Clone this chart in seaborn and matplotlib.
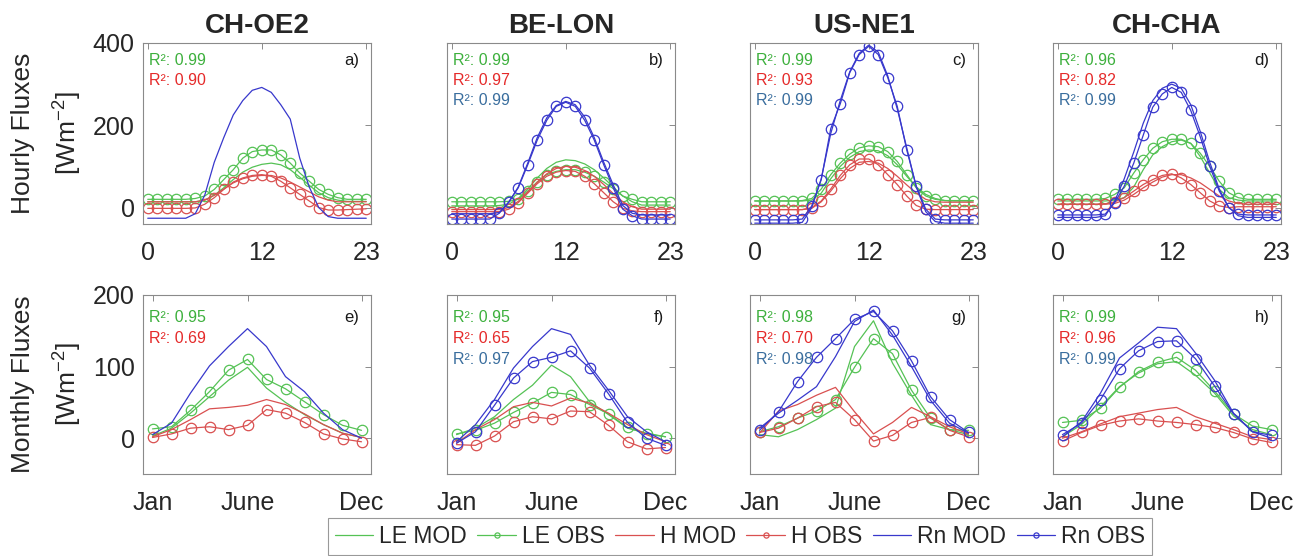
import matplotlib
matplotlib.use("Agg")
import matplotlib.pyplot as plt
import seaborn as sns
import numpy as np
import pandas as pd

# --- data ----------------------------------------------------------------
sites = ["CH-OE2", "BE-LON", "US-NE1", "CH-CHA"]
hours = list(range(24))
months = list(range(1, 13))
month_ticks = [1, 6, 12]
month_labels = ["Jan", "June", "Dec"]

# hourly fluxes (W m-2)
oe2_h_le_mod = [14, 14, 14, 14, 14, 14, 18, 30, 48, 68, 86, 98, 105, 108, 104, 92, 74, 54, 36, 24, 18, 15, 15, 15]
oe2_h_le_obs = [20, 20, 20, 20, 20, 22, 28, 44, 68, 92, 120, 136, 140, 140, 128, 108, 84, 64, 44, 32, 24, 20, 20, 20]
oe2_h_h_mod = [14, 14, 14, 14, 14, 14, 18, 30, 45, 60, 70, 76, 78, 78, 72, 62, 50, 38, 26, 18, 14, 14, 14, 14]
oe2_h_h_obs = [-2, -2, -2, -2, -2, -1, 8, 24, 44, 62, 72, 78, 80, 76, 64, 48, 32, 16, 0, -6, -6, -5, -4, -3]
oe2_h_rn_mod = [-26, -26, -26, -26, -26, -15, 30, 110, 170, 225, 260, 285, 292, 280, 250, 215, 120, 50, 0, -22, -26, -26, -26, -26]

lon_h_le_mod = [4, 4, 4, 4, 4, 5, 8, 22, 45, 72, 95, 110, 116, 114, 106, 92, 72, 50, 28, 14, 6, 6, 6, 6]
lon_h_le_obs = [14, 14, 14, 14, 14, 14, 15, 20, 40, 62, 80, 88, 92, 92, 86, 76, 62, 46, 28, 20, 14, 14, 14, 14]
lon_h_h_mod = [-5, -5, -5, -5, -5, -5, 0, 15, 38, 62, 82, 95, 100, 98, 90, 76, 56, 34, 14, 2, -4, -4, -4, -4]
lon_h_h_obs = [-10, -10, -10, -10, -10, -10, -4, 12, 35, 58, 76, 86, 90, 88, 76, 58, 36, 14, -2, -8, -10, -10, -10, -10]
lon_h_rn_mod = [-15, -15, -15, -15, -15, -12, 12, 50, 108, 170, 218, 248, 258, 250, 220, 170, 110, 55, 5, -14, -18, -18, -18, -18]
lon_h_rn_obs = [-28, -28, -28, -28, -28, -14, 14, 48, 104, 164, 212, 246, 256, 246, 212, 164, 104, 48, -4, -20, -28, -28, -28, -28]

ne1_h_le_mod = [16, 16, 16, 16, 16, 16, 18, 35, 70, 100, 122, 136, 140, 138, 126, 104, 76, 50, 32, 22, 17, 17, 17, 17]
ne1_h_le_obs = [16, 16, 16, 16, 16, 17, 22, 45, 80, 108, 130, 145, 150, 148, 136, 112, 80, 48, 28, 20, 17, 16, 16, 16]
ne1_h_h_mod = [-5, -5, -5, -5, -5, -5, -2, 14, 40, 70, 95, 110, 112, 108, 95, 76, 55, 35, 20, 14, 13, 13, 13, 13]
ne1_h_h_obs = [-5, -5, -5, -5, -5, -5, 0, 16, 45, 78, 104, 118, 118, 104, 80, 56, 28, 5, -4, -5, -5, -5, -5, -5]
ne1_h_rn_mod = [-38, -38, -38, -38, -38, -36, 0, 70, 180, 260, 330, 375, 395, 378, 320, 240, 145, 50, -10, -34, -38, -38, -38, -38]
ne1_h_rn_obs = [-30, -30, -30, -30, -30, -28, 4, 68, 192, 252, 328, 372, 392, 372, 316, 246, 140, 52, -4, -28, -30, -30, -30, -30]

cha_h_le_mod = [16, 16, 16, 16, 16, 16, 18, 24, 50, 92, 128, 148, 160, 164, 156, 124, 84, 44, 24, 18, 16, 16, 16, 16]
cha_h_le_obs = [20, 20, 20, 20, 20, 22, 32, 48, 84, 116, 144, 160, 166, 166, 156, 132, 100, 64, 36, 24, 20, 20, 20, 20]
cha_h_h_mod = [8, 8, 8, 8, 8, 8, 10, 18, 32, 48, 62, 74, 80, 80, 72, 60, 44, 28, 16, 10, 8, 8, 8, 8]
cha_h_h_obs = [8, 8, 8, 8, 8, 9, 14, 24, 40, 56, 68, 78, 82, 72, 56, 36, 16, 4, 0, 2, 2, 2, 2, 2]
cha_h_rn_mod = [-24, -24, -24, -24, -24, -20, 16, 70, 135, 205, 260, 290, 300, 290, 250, 185, 110, 45, 0, -20, -24, -24, -24, -24]
cha_h_rn_obs = [-18, -18, -18, -18, -18, -16, 12, 52, 108, 176, 244, 276, 292, 280, 236, 172, 100, 40, 0, -16, -18, -18, -18, -18]

# monthly fluxes (W m-2)
oe2_m_le_mod = [3, 14, 35, 58, 81, 99, 70, 50, 33, 19, 7, 1]
oe2_m_le_obs = [13, 16, 39, 65, 95, 110, 82, 69, 51, 33, 18, 11]
oe2_m_h_mod = [2, 12, 26, 41, 43, 46, 54, 47, 34, 19, 7, 1]
oe2_m_h_obs = [1, 6, 14, 16, 12, 18, 40, 35, 22, 6, -1, -5]
oe2_m_rn_mod = [5, 21, 63, 101, 128, 153, 128, 86, 65, 35, 12, 0]

lon_m_le_mod = [5, 14, 30, 54, 74, 102, 86, 51, 33, 14, 7, 2]
lon_m_le_obs = [6, 11, 21, 36, 49, 64, 61, 47, 34, 15, 6, 2]
lon_m_h_mod = [-7, 12, 26, 44, 50, 45, 56, 49, 35, 19, 5, -5]
lon_m_h_obs = [-9, -10, 3, 23, 30, 27, 38, 37, 18, -5, -15, -13]
lon_m_rn_mod = [-5, 19, 54, 98, 128, 153, 145, 102, 67, 30, 9, -5]
lon_m_rn_obs = [-7, 9, 46, 84, 107, 113, 122, 98, 62, 22, 0, -10]

ne1_m_le_mod = [5, 2, 12, 26, 42, 128, 164, 105, 60, 19, 12, 5]
ne1_m_le_obs = [9, 16, 28, 38, 54, 99, 139, 118, 67, 28, 12, 11]
ne1_m_h_mod = [7, 38, 47, 60, 71, 37, 6, 22, 43, 30, 16, 6]
ne1_m_h_obs = [8, 14, 28, 44, 50, 26, -4, 4, 22, 29, 11, 2]
ne1_m_rn_mod = [14, 35, 53, 72, 114, 163, 179, 144, 100, 53, 21, 7]
ne1_m_rn_obs = [11, 37, 79, 113, 139, 166, 177, 150, 108, 58, 26, 8]

cha_m_le_mod = [2, 19, 44, 72, 91, 104, 107, 88, 63, 31, 12, 5]
cha_m_le_obs = [22, 25, 42, 71, 93, 106, 113, 95, 66, 34, 17, 12]
cha_m_h_mod = [0, 9, 20, 30, 35, 40, 43, 30, 21, 12, 2, -2]
cha_m_h_obs = [-4, 8, 18, 24, 27, 24, 22, 19, 15, 8, -1, -6]
cha_m_rn_mod = [2, 23, 63, 112, 133, 155, 153, 119, 81, 35, 9, 0]
cha_m_rn_obs = [5, 21, 54, 97, 122, 135, 136, 111, 73, 34, 9, 4]

r2_hourly = [["0.99", "0.90"], ["0.99", "0.97", "0.99"], ["0.99", "0.93", "0.99"], ["0.96", "0.82", "0.99"]]
r2_monthly = [["0.95", "0.69"], ["0.95", "0.65", "0.97"], ["0.98", "0.70", "0.98"], ["0.99", "0.96", "0.99"]]
letters_top = ["a)", "b)", "c)", "d)"]
letters_bot = ["e)", "f)", "g)", "h)"]

hourly = [
    {"LE MOD": oe2_h_le_mod, "LE OBS": oe2_h_le_obs, "H MOD": oe2_h_h_mod, "H OBS": oe2_h_h_obs, "Rn MOD": oe2_h_rn_mod},
    {"LE MOD": lon_h_le_mod, "LE OBS": lon_h_le_obs, "H MOD": lon_h_h_mod, "H OBS": lon_h_h_obs, "Rn MOD": lon_h_rn_mod, "Rn OBS": lon_h_rn_obs},
    {"LE MOD": ne1_h_le_mod, "LE OBS": ne1_h_le_obs, "H MOD": ne1_h_h_mod, "H OBS": ne1_h_h_obs, "Rn MOD": ne1_h_rn_mod, "Rn OBS": ne1_h_rn_obs},
    {"LE MOD": cha_h_le_mod, "LE OBS": cha_h_le_obs, "H MOD": cha_h_h_mod, "H OBS": cha_h_h_obs, "Rn MOD": cha_h_rn_mod, "Rn OBS": cha_h_rn_obs},
]
monthly = [
    {"LE MOD": oe2_m_le_mod, "LE OBS": oe2_m_le_obs, "H MOD": oe2_m_h_mod, "H OBS": oe2_m_h_obs, "Rn MOD": oe2_m_rn_mod},
    {"LE MOD": lon_m_le_mod, "LE OBS": lon_m_le_obs, "H MOD": lon_m_h_mod, "H OBS": lon_m_h_obs, "Rn MOD": lon_m_rn_mod, "Rn OBS": lon_m_rn_obs},
    {"LE MOD": ne1_m_le_mod, "LE OBS": ne1_m_le_obs, "H MOD": ne1_m_h_mod, "H OBS": ne1_m_h_obs, "Rn MOD": ne1_m_rn_mod, "Rn OBS": ne1_m_rn_obs},
    {"LE MOD": cha_m_le_mod, "LE OBS": cha_m_le_obs, "H MOD": cha_m_h_mod, "H OBS": cha_m_h_obs, "Rn MOD": cha_m_rn_mod, "Rn OBS": cha_m_rn_obs},
]

order = ["LE MOD", "LE OBS", "H MOD", "H OBS", "Rn MOD", "Rn OBS"]
line_col = {"LE": "#55C255", "H": "#D95050", "Rn": "#3838CC"}
text_col = ["#3DB03D", "#E52A2A", "#3A6E9E"]

# --- style ----------------------------------------------------------------
sns.set_style("white")
plt.rcParams["font.family"] = ["Liberation Sans", "DejaVu Sans"]
plt.rcParams["mathtext.fontset"] = "custom"
plt.rcParams["mathtext.rm"] = "Liberation Sans"
plt.rcParams["mathtext.it"] = "Liberation Sans:italic"

fig = plt.figure(figsize=(12.98, 5.56), dpi=100)
W, H = 1298.0, 556.0
lefts = [143, 447, 750, 1053]
axw = 228


def draw(ax, x, series, r2, letter, top):
    for name in order:
        if name not in series:
            continue
        var, kind = name.split()
        c = line_col[var]
        if kind == "OBS":
            sns.lineplot(x=x, y=series[name], ax=ax, color=c, lw=0.9, marker="o", ms=7.5,
                         mfc="none", mec=c, mew=0.9, errorbar=None, label=name)
        else:
            sns.lineplot(x=x, y=series[name], ax=ax, color=c, lw=0.9, errorbar=None, label=name)
    if ax.get_legend() is not None:
        ax.get_legend().remove()

    y0 = 0.905 if top else 0.877
    dy = 0.11 if top else 0.118
    for i, v in enumerate(r2):
        ax.text(0.025, y0 - i * dy, "R\u00b2: " + v, transform=ax.transAxes, color=text_col[i],
                fontsize=11.5, va="center", ha="left")
    ax.text(0.95, y0, letter, transform=ax.transAxes, fontsize=12, va="center", ha="right", color="#1a1a1a")

    for sp in ax.spines.values():
        sp.set_color("#8a8a8a")
        sp.set_linewidth(0.8)
    ax.tick_params(direction="in", top=True, right=True, length=4, width=0.7, color="#8a8a8a",
                   labelsize=18, labelcolor="#262626")
    ax.tick_params(axis="x", pad=12)
    ax.tick_params(axis="y", pad=6)
    ax.set_xlabel("")
    ax.set_ylabel("")


for j in range(4):
    ax = fig.add_axes([lefts[j] / W, 1 - 224 / H, axw / W, 181 / H])
    draw(ax, hours, hourly[j], r2_hourly[j], letters_top[j], True)
    ax.set_xlim(-0.5, 23.5)
    ax.set_ylim(-40, 400)
    ax.set_xticks([0, 12, 23])
    ax.set_yticks([0, 200, 400])
    if j == 0:
        ax.set_ylabel("Hourly Fluxes\n[Wm$^{-2}$]", fontsize=19, labelpad=6, linespacing=1.7, color="#262626")
    else:
        ax.set_yticklabels([])
    ax.set_title(sites[j], fontsize=20, fontweight="bold", pad=7)
    if j == 1:
        handles, labels = ax.get_legend_handles_labels()

    ax = fig.add_axes([lefts[j] / W, 1 - 474 / H, axw / W, 179 / H])
    draw(ax, months, monthly[j], r2_monthly[j], letters_bot[j], False)
    ax.set_xlim(0.5, 12.5)
    ax.set_ylim(-50, 200)
    ax.set_xticks(month_ticks)
    ax.set_xticklabels(month_labels)
    ax.set_yticks([0, 100, 200])
    if j == 0:
        ax.set_ylabel("Monthly Fluxes\n[Wm$^{-2}$]", fontsize=19, labelpad=6, linespacing=1.7, color="#262626")
    else:
        ax.set_yticklabels([])

leg = fig.legend(handles, labels, loc="center", bbox_to_anchor=(0.570, 0.035), ncol=6,
                 frameon=True, fancybox=False, edgecolor="#808080", handlelength=1.7,
                 handletextpad=0.25, columnspacing=0.45, borderpad=0.3, markerscale=0.5,
                 prop={"size": 16.5})
leg.get_frame().set_linewidth(0.8)

fig.savefig("out.png", dpi=100)
